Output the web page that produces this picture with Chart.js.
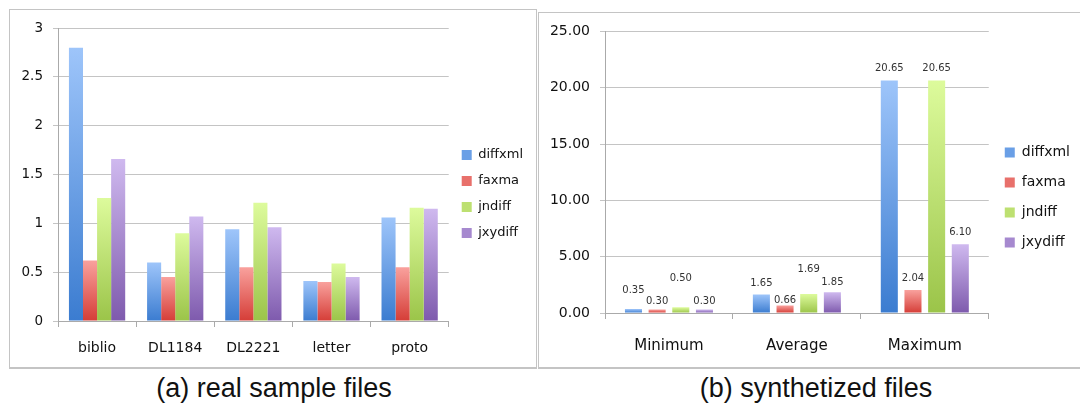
<!DOCTYPE html>
<html>
<head>
<meta charset="utf-8">
<script src="https://cdn.jsdelivr.net/npm/chart.js@4/dist/chart.umd.min.js"></script>
<style>
  body { margin: 0; width: 1080px; height: 404px; background: #fff; overflow: hidden; position: relative; font-family: "DejaVu Sans", sans-serif; }
  .frame { position: absolute; border: 1px solid #c4c4c4; border-bottom-width: 2px; box-sizing: border-box; }
  #frameA { left: 9px; top: 9px; width: 528px; height: 360px; }
  #frameB { left: 538px; top: 12px; width: 560px; height: 357px; }
  canvas { position: absolute; }
  .caption { position: absolute; top: 372px; font-family: "Liberation Sans", Arial, sans-serif; font-size: 27px; color: #111; text-align: center; line-height: 32px; }
</style>
</head>
<body>
<div class="frame" id="frameA"></div>
<div class="frame" id="frameB"></div>
<canvas id="chartA" width="525" height="356" style="left:10px;top:10px;width:525px;height:356px"></canvas>
<canvas id="chartB" width="541" height="354" style="left:539px;top:13px;width:541px;height:354px"></canvas>
<div class="caption" style="left:134px;width:280px">(a) real sample files</div>
<div class="caption" style="left:676px;width:280px">(b) synthetized files</div>
<script>
// series names and colours (light top, dark bottom of each bar)
const seriesNames = ['diffxml', 'faxma', 'jndiff', 'jxydiff'];
const lightColors = ['#9ec5fa', '#f9a19d', '#ddfb9c', '#cfb9ef'];
const darkColors = ['#3b7cd0', '#d53d37', '#9bc449', '#7e5aad'];
const midColors = ['#6a9fe6', '#e8706b', '#bde071', '#a689cf'];

// (a) real sample files
const realFiles = ['biblio', 'DL1184', 'DL2221', 'letter', 'proto'];
const realDiffxml = [2.80, 0.60, 0.94, 0.41, 1.06];
const realFaxma = [0.62, 0.45, 0.55, 0.40, 0.55];
const realJndiff = [1.26, 0.90, 1.21, 0.59, 1.16];
const realJxydiff = [1.66, 1.07, 0.96, 0.45, 1.15];

// (b) synthetized files
const synthGroups = ['Minimum', 'Average', 'Maximum'];
const synthDiffxml = [0.35, 1.65, 20.65];
const synthFaxma = [0.30, 0.66, 2.04];
const synthJndiff = [0.50, 1.69, 20.65];
const synthJxydiff = [0.30, 1.85, 6.10];

// how far above the bar top each value label sits (px), per series
const labelLift = [[19, 11, 12], [8, 5, 12], [29, 25, 12], [8, 10, 12]];

function barFill(i) {
  return function (ctx) {
    const chart = ctx.chart;
    if (!chart.chartArea || ctx.type !== 'data') return midColors[i];
    const y = chart.scales.y;
    const top = y.getPixelForValue(ctx.raw);
    const base = y.getPixelForValue(0);
    if (!isFinite(top) || !isFinite(base) || top === base) return midColors[i];
    const g = chart.ctx.createLinearGradient(0, top, 0, base);
    g.addColorStop(0, lightColors[i]);
    g.addColorStop(1, darkColors[i]);
    return g;
  };
}

function makeDatasets(lists, barPct) {
  return lists.map((data, i) => ({
    label: seriesNames[i],
    data: data,
    backgroundColor: barFill(i),
    borderWidth: 0,
    barPercentage: barPct
  }));
}

function legendLabels(chart) {
  return Chart.defaults.plugins.legend.labels.generateLabels(chart).map((item, i) => {
    item.fillStyle = midColors[i];
    item.strokeStyle = midColors[i];
    item.lineWidth = 0;
    return item;
  });
}

const valueLabels = {
  id: 'valueLabels',
  afterDatasetsDraw(chart) {
    const ctx = chart.ctx;
    ctx.save();
    ctx.font = '10px "DejaVu Sans"';
    ctx.fillStyle = '#333';
    ctx.textAlign = 'center';
    ctx.textBaseline = 'middle';
    chart.data.datasets.forEach((ds, i) => {
      chart.getDatasetMeta(i).data.forEach((bar, j) => {
        ctx.fillText(ds.data[j].toFixed(2), bar.x, bar.y - labelLift[i][j]);
      });
    });
    ctx.restore();
  }
};

function baseOptions(cfg) {
  return {
    responsive: false,
    animation: false,
    layout: { padding: { top: cfg.padTop, right: cfg.padRight } },
    plugins: {
      tooltip: { enabled: false },
      legend: {
        position: 'right',
        labels: {
          boxWidth: 10, boxHeight: 10, padding: cfg.legendGap,
          color: '#111', font: { family: 'DejaVu Sans', size: cfg.legendSize },
          generateLabels: legendLabels
        }
      }
    },
    scales: {
      x: {
        grid: { drawOnChartArea: false, color: '#aaa', tickLength: 6 },
        border: { color: '#aaa' },
        ticks: { color: '#111', padding: cfg.xPad, font: { family: 'DejaVu Sans', size: cfg.xSize } },
        afterFit: s => { s.height = cfg.xHeight; }
      },
      y: {
        min: 0, max: cfg.yMax,
        grid: { color: '#c4c4c4', tickLength: 5 },
        border: { color: '#aaa' },
        ticks: { stepSize: cfg.yStep, color: '#111', padding: 10, font: { family: 'DejaVu Sans', size: cfg.ySize }, callback: cfg.yFormat },
        afterFit: s => { s.width = cfg.yWidth; }
      }
    }
  };
}

new Chart(document.getElementById('chartA'), {
  type: 'bar',
  data: {
    labels: realFiles,
    datasets: makeDatasets([realDiffxml, realFaxma, realJndiff, realJxydiff], 1.0)
      .map(d => Object.assign(d, { categoryPercentage: 0.72 }))
  },
  options: baseOptions({
    padTop: 12, padRight: 2, legendGap: 13, legendSize: 13,
    xPad: 13, xSize: 14, xHeight: 45, yMax: 3, yStep: 0.5, ySize: 13.5, yWidth: 48,
    yFormat: v => String(v)
  })
});

new Chart(document.getElementById('chartB'), {
  type: 'bar',
  data: {
    labels: synthGroups,
    datasets: makeDatasets([synthDiffxml, synthFaxma, synthJndiff, synthJxydiff], 0.72)
      .map(d => Object.assign(d, { categoryPercentage: 0.74 }))
  },
  options: baseOptions({
    padTop: 15, padRight: 0, legendGap: 16, legendSize: 14,
    xPad: 18, xSize: 15, xHeight: 54, yMax: 25, yStep: 5, ySize: 14, yWidth: 66,
    yFormat: v => v.toFixed(2)
  }),
  plugins: [valueLabels]
});
</script>
</body>
</html>
